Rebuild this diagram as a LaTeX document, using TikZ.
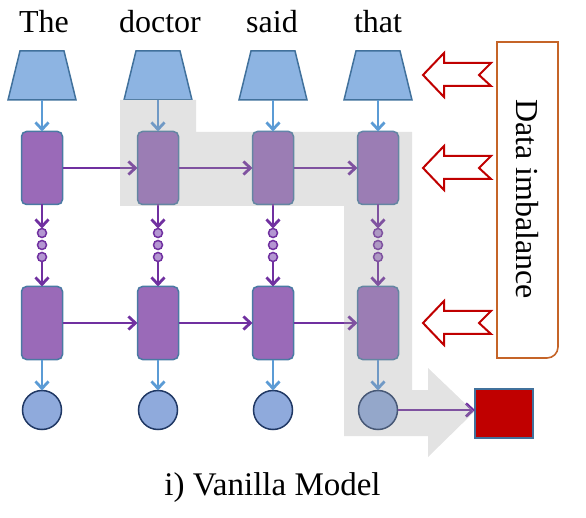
\documentclass[tikz,border=0pt]{standalone}
\usepackage{fontspec}
\setmainfont{Liberation Serif}
\usetikzlibrary{arrows.meta}
\definecolor{trapfill}{RGB}{141,180,226}
\definecolor{trapline}{RGB}{65,113,156}
\definecolor{darkred}{RGB}{192,0,0}
\definecolor{brownline}{RGB}{197,100,40}
\definecolor{hlgray}{RGB}{227,227,227}
% normal colours
\definecolor{rectfillN}{RGB}{154,106,184}
\definecolor{rectlineN}{RGB}{74,122,163}
\definecolor{circfillN}{RGB}{143,170,220}
\definecolor{circlineN}{RGB}{32,56,100}
\definecolor{dotfillN}{RGB}{180,150,210}
\definecolor{purpN}{RGB}{112,48,160}
\definecolor{lblueN}{RGB}{91,155,213}
% faded colours (under the grey highlight)
\definecolor{rectfillF}{RGB}{155,125,180}
\definecolor{rectlineF}{RGB}{100,134,162}
\definecolor{circfillF}{RGB}{148,167,202}
\definecolor{circlineF}{RGB}{71,88,118}
\definecolor{dotfillF}{RGB}{174,153,195}
\definecolor{purpF}{RGB}{127,82,160}
\definecolor{lblueF}{RGB}{112,153,197}
\colorlet{rectfill}{rectfillN}
\colorlet{rectline}{rectlineN}
\colorlet{circfill}{circfillN}
\colorlet{circline}{circlineN}
\colorlet{dotfill}{dotfillN}
\colorlet{purp}{purpN}
\colorlet{lblue}{lblueN}
\tikzset{
  emb/.style={fill=trapfill, draw=trapline, line width=1.5pt, line join=miter},
  cell/.style={rectangle, rounded corners=5pt, minimum width=41pt, minimum height=73pt, inner sep=0pt, outer sep=0pt, fill=rectfill, draw=rectline, line width=1.5pt},
  dotnode/.style={circle, minimum size=9pt, inner sep=0pt, outer sep=0pt, fill=dotfill, draw=purp, line width=1.5pt},
  outnode/.style={circle, minimum size=39pt, inner sep=0pt, outer sep=0pt, fill=circfill, draw=circline, line width=1.5pt},
  bluearrow/.style={draw=lblue, line width=2.8pt, -{Straight Barb[length=7pt,width=13pt]}},
  purparrow/.style={draw=purp, line width=2.8pt, -{Straight Barb[length=7pt,width=13pt]}},
  word/.style={font=\fontsize{32}{38}\selectfont, anchor=base, inner sep=0pt},
  blockarrow/.style={draw=darkred, fill=white, line width=2pt, line join=miter},
}
\newcommand\netcols[1]{%
  \foreach \i/\x in {1/42,2/158,3/273,4/378}{
    \node[cell] (a\i#1) at (\x,168) {};
    \node[dotnode] (p\i#1) at (\x,233) {};
    \node[dotnode] (q\i#1) at (\x,245) {};
    \node[dotnode] (r\i#1) at (\x,257) {};
    \node[cell] (b\i#1) at (\x,323) {};
    \node[outnode] (c\i#1) at (\x,410) {};
    \draw[bluearrow] (t\i) -- (a\i#1.north);
    \draw[purparrow] (a\i#1.south) -- (p\i#1.north);
    \draw[purparrow] (r\i#1.south) -- (b\i#1.north);
    \draw[bluearrow] (b\i#1.south) -- (c\i#1.north);
  }
  \foreach \i/\j in {1/2,2/3,3/4}{
    \draw[purparrow] (a\i#1.east) -- (a\j#1.west);
    \draw[purparrow] (b\i#1.east) -- (b\j#1.west);
  }
  \draw[purparrow] (c4#1.east) -- (c4#1.east -| sq.west);
}
\begin{document}
\begin{tikzpicture}[x=1pt,y=-1pt]
\useasboundingbox (0,0) rectangle (586,518);
% words
\node[word] (w1) at (44,33) {The};
\node[word] (w2) at (160,33) {doctor};
\node[word] (w3) at (272,33) {said};
\node[word] (w4) at (378,33) {that};
% embeddings
\foreach \i/\x in {1/42,2/158,3/273,4/378}{
  \draw[emb] (\x-22,51) -- (\x+22,51) -- (\x+34,100) -- (\x-34,100) -- cycle;
  \coordinate (t\i) at (\x,100);
}
% output square
\node[rectangle, minimum width=58pt, minimum height=49pt, inner sep=0pt, outer sep=0pt, fill=darkred, draw=trapline, line width=1.5pt] (sq) at (504,413.5) {};
% network, normal colours
\netcols{}
% grey highlight, with the parts under it drawn faded
\begin{scope}
  \clip (120,100) -- (196,100) -- (196,132) -- (412,132) -- (412,390) -- (428,390) -- (428,368) -- (474,412) -- (428,457) -- (428,436) -- (344,436) -- (344,206) -- (120,206) -- cycle;
  \fill[hlgray] (100,90) rectangle (480,460);
  \colorlet{rectfill}{rectfillF}
  \colorlet{rectline}{rectlineF}
  \colorlet{circfill}{circfillF}
  \colorlet{circline}{circlineF}
  \colorlet{dotfill}{dotfillF}
  \colorlet{purp}{purpF}
  \colorlet{lblue}{lblueF}
  \netcols{f}
\end{scope}
% data imbalance box
\draw[brownline, line width=1.6pt] (497,42) -- (558,42) [rounded corners=11pt] -- (558,358) [rounded corners=0pt] -- (497,358) -- cycle;
\node[font=\fontsize{32}{38}\selectfont, rotate=-90, inner sep=0pt] (box) at (527.5,199) {Data imbalance};
% red block arrows
\foreach \cy in {75,168,323}{
  \draw[blockarrow] (423,\cy) -- (444,\cy-22) -- (444,\cy-12) -- (491,\cy-12) -- (479,\cy) -- (491,\cy+11) -- (444,\cy+11) -- (444,\cy+22) -- cycle;
}
% caption
\node[word, font=\fontsize{33}{38}\selectfont] (cap) at (272.5,495) {i) Vanilla Model};
\end{tikzpicture}
\end{document}
